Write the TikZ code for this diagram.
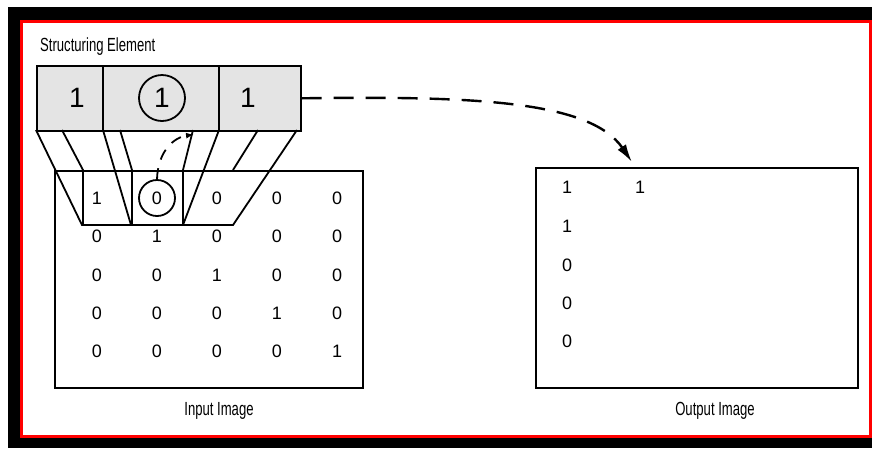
\documentclass[tikz,border=0pt]{standalone}
\usepackage{fontspec}
\setmainfont{Liberation Sans}
\usepackage{graphicx}
\usetikzlibrary{positioning,arrows.meta,calc}

\definecolor{segray}{RGB}{228,228,228}
\newcommand{\narrow}[1]{\scalebox{0.69}[1]{#1}}

\begin{document}
\begin{tikzpicture}[x=1pt,y=-1pt,
every node/.style={align=center, inner sep=0pt},
caption/.style={font=\fontsize{19}{19}\selectfont},
cellnum/.style={font=\fontsize{18}{18}\selectfont},
senum/.style={font=\fontsize{28}{28}\selectfont},
ring/.style={draw, circle, line width=1.8pt},
box/.style={draw, line width=1.6pt, anchor=north west}]

\useasboundingbox (0,0) rectangle (874,448);

% Frame
\fill[black] (8,7) rectangle (872,448);
\draw[red, line width=3pt, fill=white] (21.5,21.8) rectangle (870.5,436.5);

% Structuring element
\node[caption, anchor=west] (selabel) at (40,47) {\narrow{Structuring Element}};

\node[
box,
fill=segray,
minimum width=264pt,
minimum height=65pt
] (se) at (36,65) {};
\draw[line width=1.6pt] (103,65) -- (103,130);
\draw[line width=1.6pt] (219,65) -- (219,130);

\node[senum] (se1) at (77,98) {1};
\node[senum, ring, minimum size=46pt] (se2) at (162,98) {1};
\node[senum] (se3) at (248,98) {1};

% Input image
\node[
box,
minimum width=308pt,
minimum height=217pt
] (inbox) at (54,170) {};
\node[caption] (inlabel) at (219,411) {\narrow{Input Image}};

\foreach \r in {1,...,5}
\foreach \c in {1,...,5}
\node[cellnum] (in-\r-\c) at ({97+60*(\c-1)},{198+38.4*(\r-1)})
{\ifnum\r=\c\relax 1\else 0\fi};

\node[ring, minimum size=36pt] (hit) at (in-1-2) {};

% Projection of the element onto the first row
\begin{scope}[line width=1.8pt]
\draw (36,130) -- (82,225) -- (233,225) -- (297,130);
\draw (62,130) -- (83,170) -- (83,225);
\draw (103,130) -- (131,225);
\draw (120,130) -- (132,170) -- (132,225);
\draw (219,130) -- (183,225);
\draw (193,130) -- (183,170) -- (183,225);
\draw (258,130) -- (233,170);
\end{scope}

% Output image
\node[
box,
minimum width=322pt,
minimum height=220pt
] (outbox) at (535,167) {};
\node[caption] (outlabel) at (715,411) {\narrow{Output Image}};

\node[cellnum] (out-1-1) at (567,187) {1};
\node[cellnum] (out-1-2) at (640,187) {1};
\node[cellnum] (out-2-1) at (567,226) {1};
\node[cellnum] (out-3-1) at (567,265) {0};
\node[cellnum] (out-4-1) at (567,303) {0};
\node[cellnum] (out-5-1) at (567,341) {0};

% Arrows
\draw[line width=1.8pt, dash pattern=on 11pt off 9pt, -{Latex[length=8pt,width=6pt]}]
(hit.north) .. controls (158,150) and (175,137) ..
($(se.south west)!0.595!(se.south east)+(0,3)$);

\draw[line width=2.4pt, dash pattern=on 20pt off 12pt, shorten >=6pt,
-{Latex[length=18pt,width=10pt]}]
(se.east) .. controls (470,96) and (590,100) ..
($(outbox.north west)!0.31!(outbox.north east)$);

\end{tikzpicture}
\end{document}
